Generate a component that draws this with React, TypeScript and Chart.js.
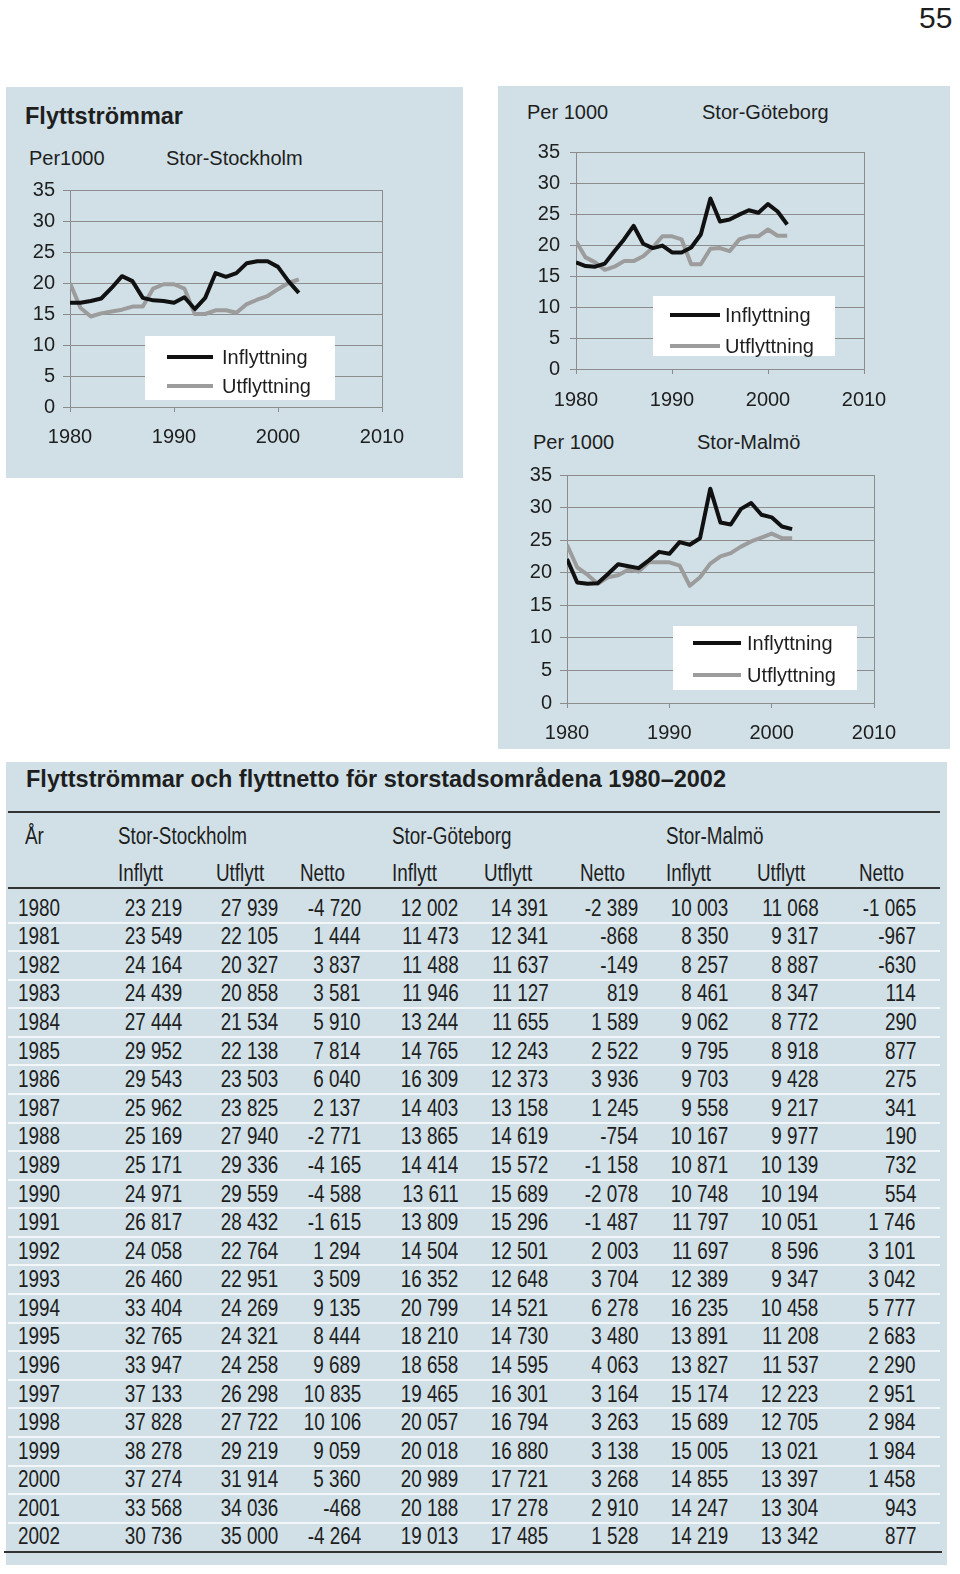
import React, { useEffect, useRef } from "react";
import { Chart, registerables } from "chart.js";

Chart.register(...registerables);

// ---------- chart data (per 1000 inhabitants) ----------
const years = [1980, 1981, 1982, 1983, 1984, 1985, 1986, 1987, 1988, 1989, 1990, 1991, 1992, 1993, 1994, 1995, 1996, 1997, 1998, 1999, 2000, 2001, 2002];
const xTicks = [1980, 1990, 2000, 2010];
const yTicks = [0, 5, 10, 15, 20, 25, 30, 35];

const sthIn = [16.8, 16.8, 17.1, 17.5, 19.2, 21.1, 20.3, 17.6, 17.2, 17.1, 16.8, 17.7, 15.8, 17.6, 21.6, 21.0, 21.6, 23.2, 23.5, 23.5, 22.6, 20.3, 18.4];
const sthOut = [20.0, 16.0, 14.6, 15.1, 15.4, 15.7, 16.2, 16.2, 19.1, 19.8, 19.8, 19.1, 15.0, 15.0, 15.6, 15.6, 15.2, 16.6, 17.3, 17.9, 19.0, 20.0, 20.6];
const gbgIn = [17.2, 16.6, 16.5, 17.0, 19.0, 20.9, 23.1, 20.2, 19.5, 19.9, 18.8, 18.8, 19.6, 21.7, 27.5, 23.8, 24.1, 24.9, 25.6, 25.2, 26.6, 25.4, 23.3];
const gbgOut = [20.6, 18.0, 17.2, 16.0, 16.5, 17.4, 17.4, 18.2, 19.6, 21.4, 21.4, 20.9, 16.9, 16.9, 19.4, 19.5, 19.0, 20.9, 21.4, 21.4, 22.5, 21.5, 21.5];
const mlmIn = [22.1, 18.5, 18.3, 18.4, 19.8, 21.3, 21.0, 20.7, 21.9, 23.2, 22.9, 24.7, 24.3, 25.3, 32.9, 27.7, 27.4, 29.8, 30.7, 28.9, 28.5, 27.1, 26.7];
const mlmOut = [24.3, 20.8, 19.7, 18.3, 19.3, 19.6, 20.5, 20.2, 21.6, 21.6, 21.6, 21.1, 18.0, 19.3, 21.4, 22.5, 23.0, 24.0, 24.8, 25.4, 26.0, 25.3, 25.3];

const seriesLabels = ["Inflyttning", "Utflyttning"];

// ---------- table data ----------
const sthInflytt = [23219, 23549, 24164, 24439, 27444, 29952, 29543, 25962, 25169, 25171, 24971, 26817, 24058, 26460, 33404, 32765, 33947, 37133, 37828, 38278, 37274, 33568, 30736];
const sthUtflytt = [27939, 22105, 20327, 20858, 21534, 22138, 23503, 23825, 27940, 29336, 29559, 28432, 22764, 22951, 24269, 24321, 24258, 26298, 27722, 29219, 31914, 34036, 35000];
const sthNetto = [-4720, 1444, 3837, 3581, 5910, 7814, 6040, 2137, -2771, -4165, -4588, -1615, 1294, 3509, 9135, 8444, 9689, 10835, 10106, 9059, 5360, -468, -4264];
const gbgInflytt = [12002, 11473, 11488, 11946, 13244, 14765, 16309, 14403, 13865, 14414, 13611, 13809, 14504, 16352, 20799, 18210, 18658, 19465, 20057, 20018, 20989, 20188, 19013];
const gbgUtflytt = [14391, 12341, 11637, 11127, 11655, 12243, 12373, 13158, 14619, 15572, 15689, 15296, 12501, 12648, 14521, 14730, 14595, 16301, 16794, 16880, 17721, 17278, 17485];
const gbgNetto = [-2389, -868, -149, 819, 1589, 2522, 3936, 1245, -754, -1158, -2078, -1487, 2003, 3704, 6278, 3480, 4063, 3164, 3263, 3138, 3268, 2910, 1528];
const mlmInflytt = [10003, 8350, 8257, 8461, 9062, 9795, 9703, 9558, 10167, 10871, 10748, 11797, 11697, 12389, 16235, 13891, 13827, 15174, 15689, 15005, 14855, 14247, 14219];
const mlmUtflytt = [11068, 9317, 8887, 8347, 8772, 8918, 9428, 9217, 9977, 10139, 10194, 10051, 8596, 9347, 10458, 11208, 11537, 12223, 12705, 13021, 13397, 13304, 13342];
const mlmNetto = [-1065, -967, -630, 114, 290, 877, 275, 341, 190, 732, 554, 1746, 3101, 3042, 5777, 2683, 2290, 2951, 2984, 1984, 1458, 943, 877];

const tableTitle = "Flyttströmmar och flyttnetto för storstadsområdena 1980–2002";
const groupHeaders = ["Stor-Stockholm", "Stor-Göteborg", "Stor-Malmö"];
const subHeaders = ["Inflytt", "Utflytt", "Netto"];

// ---------- styling ----------
const FONT = '"Liberation Sans", Arial, Helvetica, sans-serif';
const PANEL = "#d0e0e6";
const TEXT = "#1e1e1e";
const BLACK = "#111111";
const GREY = "#9c9c9c";
const GRID = "#8c8c8c";

const fmt = (v: number) => {
  const s = String(Math.abs(v)).replace(/\B(?=(\d{3})+(?!\d))/g, " ");
  return (v < 0 ? "-" : "") + s;
};

const boxLegend = {
  id: "boxLegend",
  beforeDatasetsDraw(chart: any, _args: any, opts: any) {
    const { ctx, chartArea } = chart;
    ctx.save();
    ctx.strokeStyle = GRID;
    ctx.lineWidth = 1;
    ctx.strokeRect(Math.round(chartArea.left) + 0.5, Math.round(chartArea.top) + 0.5, Math.round(chartArea.right - chartArea.left), Math.round(chartArea.bottom - chartArea.top));
    const [bx1, by1, bx2, by2] = opts.box;
    ctx.fillStyle = "#ffffff";
    ctx.fillRect(bx1, by1, bx2 - bx1, by2 - by1);
    chart.data.datasets.forEach((ds: any, i: number) => {
      const y = opts.rows[i];
      ctx.strokeStyle = ds.borderColor;
      ctx.lineWidth = 4;
      ctx.lineCap = "butt";
      ctx.beginPath();
      ctx.moveTo(opts.lineX[0], y);
      ctx.lineTo(opts.lineX[1], y);
      ctx.stroke();
      ctx.fillStyle = TEXT;
      ctx.font = `20px ${FONT}`;
      ctx.textBaseline = "middle";
      ctx.textAlign = "left";
      ctx.fillText(ds.label, opts.textX, y + 1);
    });
    ctx.restore();
  },
};

type Cfg = {
  left: number; top: number; width: number; height: number;
  area: { l: number; t: number; r: number; b: number };
  yTickLen: number; yPad: number; xPad: number;
  legend: { box: number[]; rows: number[]; lineX: number[]; textX: number };
  inData: number[]; outData: number[];
};

function LineChart({ cfg }: { cfg: Cfg }) {
  const ref = useRef<HTMLCanvasElement | null>(null);
  useEffect(() => {
    if (!ref.current) return;
    const { left, top, width, height, area, legend } = cfg;
    const rel = {
      box: [legend.box[0] - left, legend.box[1] - top, legend.box[2] - left, legend.box[3] - top],
      rows: legend.rows.map((y) => y - top),
      lineX: legend.lineX.map((x) => x - left),
      textX: legend.textX - left,
    };
    const chart = new Chart(ref.current, {
      type: "line",
      data: {
        datasets: [
          {
            label: seriesLabels[0],
            data: years.map((y, i) => ({ x: y, y: cfg.inData[i] })),
            borderColor: BLACK,
            borderWidth: 4,
            pointRadius: 0,
            tension: 0,
            borderJoinStyle: "round",
          },
          {
            label: seriesLabels[1],
            data: years.map((y, i) => ({ x: y, y: cfg.outData[i] })),
            borderColor: GREY,
            borderWidth: 4,
            pointRadius: 0,
            tension: 0,
            borderJoinStyle: "round",
          },
        ],
      },
      options: {
        animation: false,
        responsive: false,
        devicePixelRatio: 1,
        layout: { padding: { left: 0, top: area.t - top, right: left + width - area.r, bottom: 0 } },
        plugins: {
          legend: { display: false },
          tooltip: { enabled: false },
          boxLegend: rel,
        } as any,
        scales: {
          x: {
            type: "linear",
            min: xTicks[0],
            max: xTicks[xTicks.length - 1],
            afterBuildTicks: (s: any) => { s.ticks = xTicks.map((v) => ({ value: v })); },
            afterFit: (s: any) => { s.height = top + height - area.b; },
            grid: { drawOnChartArea: false, drawTicks: true, tickLength: 5, color: GRID },
            border: { color: GRID },
            ticks: { padding: cfg.xPad, color: TEXT, font: { family: FONT, size: 20 }, maxRotation: 0, callback: (v: any) => String(v) },
          },
          y: {
            type: "linear",
            min: yTicks[0],
            max: yTicks[yTicks.length - 1],
            afterBuildTicks: (s: any) => { s.ticks = yTicks.map((v) => ({ value: v })); },
            afterFit: (s: any) => { s.width = area.l - left; },
            grid: { color: GRID, tickLength: cfg.yTickLen, lineWidth: 1 },
            border: { color: GRID },
            ticks: { padding: cfg.yPad, color: TEXT, font: { family: FONT, size: 20 }, callback: (v: any) => String(v) },
          },
        },
      },
      plugins: [boxLegend],
    } as any);
    return () => chart.destroy();
  }, [cfg]);
  return (
    <canvas
      ref={ref}
      width={cfg.width}
      height={cfg.height}
      style={{ position: "absolute", left: cfg.left, top: cfg.top, width: cfg.width, height: cfg.height }}
    />
  );
}

const sthCfg: Cfg = {
  left: 0, top: 170, width: 440, height: 300,
  area: { l: 70, t: 188, r: 382, b: 407 },
  yTickLen: 7, yPad: 8, xPad: 13,
  legend: { box: [145, 336, 335, 400], rows: [357, 386], lineX: [167, 213], textX: 222 },
  inData: sthIn, outData: sthOut,
};
const gbgCfg: Cfg = {
  left: 490, top: 130, width: 450, height: 295,
  area: { l: 576, t: 147, r: 864, b: 369 },
  yTickLen: 6, yPad: 10, xPad: 14,
  legend: { box: [653, 296, 835, 356], rows: [315, 346], lineX: [670, 720], textX: 725 },
  inData: gbgIn, outData: gbgOut,
};
const mlmCfg: Cfg = {
  left: 490, top: 455, width: 450, height: 290,
  area: { l: 567, t: 474, r: 874, b: 703 },
  yTickLen: 7, yPad: 8, xPad: 13,
  legend: { box: [673, 626, 857, 690], rows: [643, 675], lineX: [693, 741], textX: 747 },
  inData: mlmIn, outData: mlmOut,
};

function Txt({ x, y, size, children, bold }: { x: number; y: number; size: number; children: any; bold?: boolean }) {
  return (
    <div style={{ position: "absolute", left: x, top: y - size * 0.49, fontFamily: FONT, fontSize: size, lineHeight: 1, fontWeight: bold ? 700 : 400, color: TEXT, whiteSpace: "nowrap" }}>
      {children}
    </div>
  );
}

const SX = 0.82;
function CondL({ x, y, size, children }: { x: number; y: number; size: number; children: any }) {
  return (
    <div style={{ position: "absolute", left: x, top: y - size * 0.49, fontFamily: FONT, fontSize: size, lineHeight: 1, color: TEXT, whiteSpace: "nowrap", transform: `scaleX(${SX})`, transformOrigin: "left center" }}>
      {children}
    </div>
  );
}
function CondR({ r, y, size, children }: { r: number; y: number; size: number; children: any }) {
  return (
    <div style={{ position: "absolute", right: 960 - r, top: y - size * 0.49, fontFamily: FONT, fontSize: size, lineHeight: 1, color: TEXT, whiteSpace: "nowrap", textAlign: "right", transform: `scaleX(${SX})`, transformOrigin: "right center" }}>
      {children}
    </div>
  );
}

const columns = [sthInflytt, sthUtflytt, sthNetto, gbgInflytt, gbgUtflytt, gbgNetto, mlmInflytt, mlmUtflytt, mlmNetto];
const colRight = [182, 278.5, 361, 458.5, 548.5, 638.5, 728.5, 818.5, 916];
const subLeft = [117.5, 216, 300, 391.5, 484, 579.5, 665.5, 757, 858.5];
const groupLeft = [117.5, 391.5, 665.5];

export default function App() {
  const rowY = (i: number) => 908 + i * 28.58;
  const TS = 23;
  return (
    <div style={{ position: "absolute", left: 0, top: 0, width: 960, height: 1574, background: "#ffffff", overflow: "hidden" }}>
      <Txt x={919} y={18} size={30}>55</Txt>

      {/* panels */}
      <div style={{ position: "absolute", left: 6, top: 87, width: 457, height: 391, background: PANEL }} />
      <div style={{ position: "absolute", left: 498, top: 86, width: 452, height: 663, background: PANEL }} />
      <div style={{ position: "absolute", left: 6, top: 762, width: 941, height: 803, background: PANEL }} />

      {/* chart headings */}
      <Txt x={25} y={117} size={23.5} bold>Flyttströmmar</Txt>
      <Txt x={29} y={158} size={20}>Per1000</Txt>
      <Txt x={166} y={158} size={20}>Stor-Stockholm</Txt>
      <Txt x={527} y={112} size={20}>Per 1000</Txt>
      <Txt x={702} y={112} size={20}>Stor-Göteborg</Txt>
      <Txt x={533} y={442} size={20}>Per 1000</Txt>
      <Txt x={697} y={442} size={20}>Stor-Malmö</Txt>

      <LineChart cfg={sthCfg} />
      <LineChart cfg={gbgCfg} />
      <LineChart cfg={mlmCfg} />

      {/* table */}
      <Txt x={26} y={780} size={23.5} bold>{tableTitle}</Txt>
      <div style={{ position: "absolute", left: 8, top: 811, width: 932, height: 2, background: "#333" }} />
      <CondL x={25} y={836} size={TS}>År</CondL>
      {groupHeaders.map((g, i) => (
        <CondL key={g} x={groupLeft[i]} y={836} size={TS}>{g}</CondL>
      ))}
      {subLeft.map((x, i) => (
        <CondL key={"s" + i} x={x} y={873} size={TS}>{subHeaders[i % 3]}</CondL>
      ))}
      <div style={{ position: "absolute", left: 8, top: 887, width: 932, height: 2, background: "#333" }} />
      {years.slice(0, -1).map((_, i) => (
        <div key={"sep" + i} style={{ position: "absolute", left: 8, top: rowY(i) + 13.5, width: 932, height: 2, background: "#f3f7f9" }} />
      ))}
      {years.map((yr, i) => (
        <React.Fragment key={yr}>
          <CondL x={18} y={rowY(i)} size={TS}>{String(yr)}</CondL>
          {columns.map((col, c) => (
            <CondR key={c} r={colRight[c]} y={rowY(i)} size={TS}>{fmt(col[i])}</CondR>
          ))}
        </React.Fragment>
      ))}
      <div style={{ position: "absolute", left: 4, top: 1551, width: 938, height: 2, background: "#333" }} />
    </div>
  );
}
